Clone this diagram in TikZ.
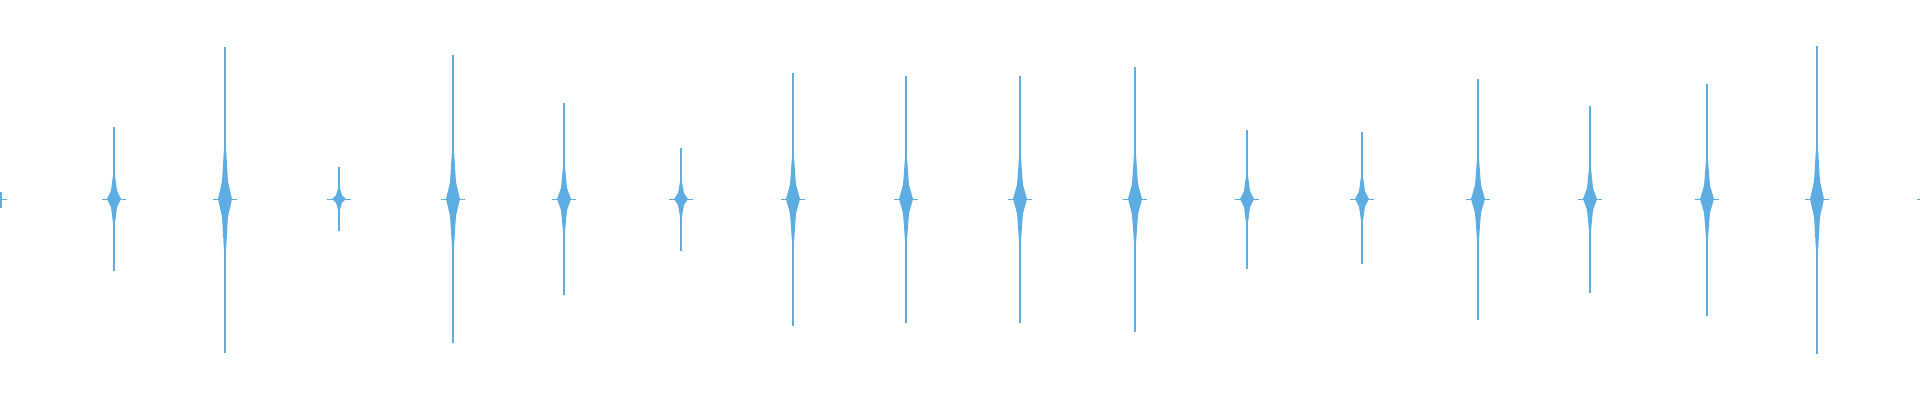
\documentclass[tikz,border=0pt]{standalone}
\definecolor{wavec}{HTML}{5DADE2}
\begin{document}
\begin{tikzpicture}[x=1pt,y=-1pt]
\tikzset{ spike/.style={fill=wavec}, tick/.style={draw=wavec, line width=1pt} }
\useasboundingbox (0,0) rectangle (1920,400);
%\draw [lightgray, dashed](0,0) grid (1920,400);

\foreach \x/\t/\b in {114/127/271, 225/47/353, 339/167/231, 453/55/343,
  564/103/295, 681/148/251, 793/73/326, 906/76/323, 1020/76/323,
  1135/67/332, 1247/130/269, 1362/132/264, 1478/79/320, 1590/106/293,
  1707/84/316, 1817/46/354}
{
  \fill [spike] (\x-0.8,\t) rectangle (\x+0.8,\b);
  \fill [spike] (\x,{199-(199-\t)*0.45}) -- (\x+4,199) -- (\x,{199+(\b-199)*0.45}) -- (\x-4,199) -- cycle;
  \fill [spike] (\x,{199-(199-\t)*0.2}) -- (\x+7,199) -- (\x,{199+(\b-199)*0.2}) -- (\x-7,199) -- cycle;
  \draw [tick] (\x-12,199) -- (\x+12,199);
}

% edges
\fill [spike] (0,192) rectangle (1.5,208);
\draw [tick] (0,199) -- (7,199);
\draw [tick] (1917,199) -- (1920,199);

\end{tikzpicture}
\end{document}
